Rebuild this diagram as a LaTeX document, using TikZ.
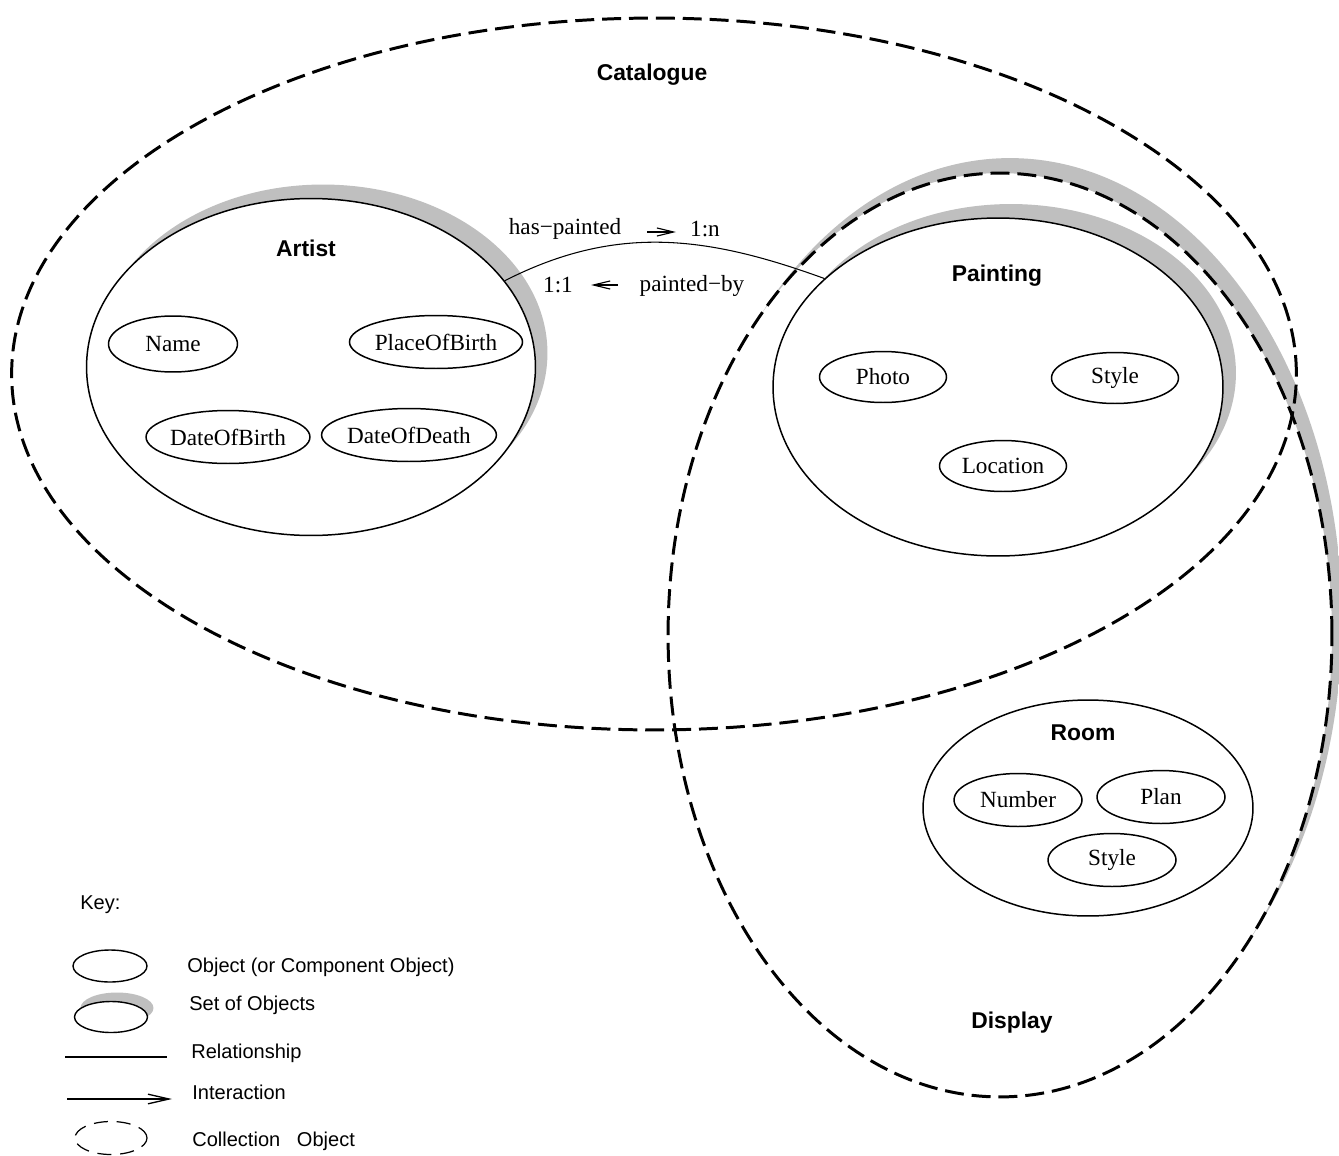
\documentclass[tikz,border=0pt]{standalone}
\usepackage{fontspec}
\setmainfont{Liberation Serif}
\setsansfont{Liberation Sans}
\usetikzlibrary{shapes.geometric,shadows,arrows.meta}

\newcommand\attrfont{\fontsize{13.2}{15}\selectfont}
\newcommand\titlefont{\sffamily\bfseries\fontsize{13}{15}\selectfont}
\newcommand\keyfont{\sffamily\fontsize{11.4}{13}\selectfont}

\tikzset{
  set/.style 2 args={draw, ellipse, line width=0.85pt, fill=white, inner sep=0pt,
    drop shadow={shadow xshift=#1, shadow yshift=#2, fill=black!25, opacity=1}},
  obj/.style={draw, ellipse, line width=0.85pt, inner sep=0pt,
    minimum width=2.56cm, minimum height=1.06cm, font=\attrfont},
  coll/.style={draw, ellipse, line width=1.7pt, dash pattern=on 10.8pt off 4.5pt,
    inner sep=0pt},
  title/.style={font=\titlefont},
  tag/.style={font=\attrfont},
  rel/.style={line width=0.6pt},
  flow/.style={line width=0.65pt, -{Straight Barb[length=9.5pt,width=4.6pt]}},
  keytext/.style={font=\keyfont, anchor=west, inner sep=0pt},
}

\begin{document}
\begin{tikzpicture}[x=0.02cm,y=-0.02cm]
  \useasboundingbox (0,0) rectangle (1339,1156);

  % grey band of the Display set
  \begin{scope}
    \clip (1010,620) ellipse [x radius=6.64cm, y radius=9.24cm];
    \fill[black!25, even odd rule] (600,100) rectangle (1400,1156)
      (1000,635) ellipse [x radius=6.64cm, y radius=9.24cm];
  \end{scope}

  % objects
  \node[set={0.24cm}{0.28cm}, minimum width=8.98cm, minimum height=6.74cm] (artist) at (311,367) {};
  \node[set={0.26cm}{0.28cm}, minimum width=9.0cm, minimum height=6.76cm] (painting) at (998,387) {};
  \node[draw, ellipse, line width=0.85pt, inner sep=0pt, minimum width=6.6cm, minimum height=4.32cm] (room) at (1088,808) {};

  % collections
  \node[coll, minimum width=25.7cm, minimum height=14.24cm] (catalogue) at (654,374) {};
  \node[coll, minimum width=13.28cm, minimum height=18.48cm] (display) at (1000,635) {};

  \node[title] (catlabel) at (652,75) {Catalogue};
  \node[title] (displabel) at (1012,1023) {Display};
  \node[title] (artlabel) at (306,248) {Artist};
  \node[title] (paintlabel) at (997,276) {Painting};
  \node[title] (roomlabel) at (1083,733) {Room};

  % components
  \node[obj, minimum width=2.58cm, minimum height=1.12cm] (name) at (173,344) {Name};
  \node[obj, minimum width=3.2cm] (pob) at (436,342) {PlaceOfBirth};
  \node[obj, minimum width=3.2cm] (dob) at (228,437) {DateOfBirth};
  \node[obj, minimum width=3.2cm] (dod) at (409,435) {DateOfDeath};

  \node[obj, minimum width=2.54cm, minimum height=1.02cm] (photo) at (883,377) {Photo};
  \node[obj, minimum width=2.54cm, minimum height=1.02cm] (pstyle) at (1115,378) {Style};
  \node[obj, minimum width=2.54cm, minimum height=1.02cm] (location) at (1003,466) {Location};

  \node[obj] (number) at (1018,800) {Number};
  \node[obj] (plan) at (1161,797) {Plan};
  \node[obj] (rstyle) at (1112,860) {Style};

  % relationship
  \draw[rel] (artist.24) to[out=27,in=160] (painting.148);
  \node[tag] (hasp) at (565,229) {has−painted};
  \node[tag] (onen) at (705,229) {1:n};
  \node[tag] (oneone) at (558,285) {1:1};
  \node[tag] (pby) at (692,286) {painted−by};
  \coordinate (ha) at (647,232);
  \coordinate (hb) at (676,232);
  \coordinate (pa) at (618,285);
  \coordinate (pb) at (591,285);
  \draw[flow] (ha) -- (hb);
  \draw[flow] (pa) -- (pb);

  % key
  \node[keytext] (keyhead) at (80,905) {Key:};
  \node[draw, ellipse, line width=0.8pt, inner sep=0pt, minimum width=1.48cm, minimum height=0.64cm] (kobj) at (110,966) {};
  \node[set={0.12cm}{0.18cm}, line width=0.8pt, minimum width=1.46cm, minimum height=0.62cm] (kset) at (111,1017) {};
  \coordinate (krel1) at (65,1057);
  \coordinate (krel2) at (167,1057);
  \draw[rel] (krel1) -- (krel2);
  \coordinate (kint1) at (67,1099);
  \coordinate (kint2) at (172,1099);
  \draw[line width=0.75pt, -{Straight Barb[length=12pt,width=5.5pt]}] (kint1) -- (kint2);
  \node[draw, ellipse, line width=0.7pt, dash pattern=on 8pt off 5pt, inner sep=0pt,
    minimum width=1.44cm, minimum height=0.66cm] (kcoll) at (111,1138) {};

  \foreach \i/\xx/\yy/\t in {1/187/967/{Object (or Component Object)},
    2/189/1005/{Set of Objects}, 3/191/1053/Relationship,
    4/192/1092/Interaction, 5/192/1141/{Collection\ \ \ Object}}{
    \node[keytext] (kt\i) at (\xx,\yy) {\t};
  }
\end{tikzpicture}
\end{document}
